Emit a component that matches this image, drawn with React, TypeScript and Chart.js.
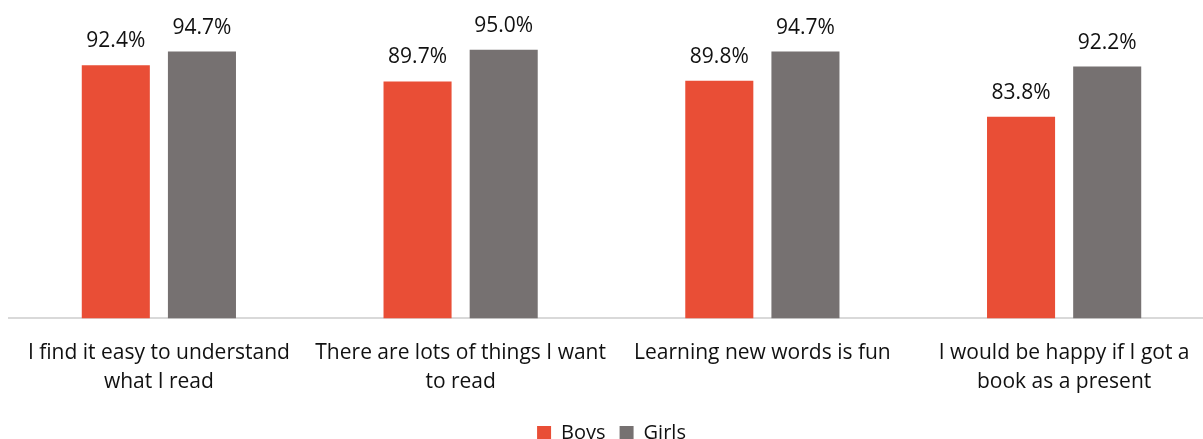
import React, { useEffect, useRef } from "react";
import { Chart, registerables } from "chart.js";

Chart.register(...registerables);

const categories: string[][] = [
  ["I find it easy to understand", "what I read"],
  ["There are lots of things I want", "to read"],
  ["Learning new words is fun"],
  ["I would be happy if I got a", "book as a present"],
];
const boys: number[] = [92.4, 89.7, 89.8, 83.8];
const girls: number[] = [94.7, 95.0, 94.7, 92.2];
const seriesNames: string[] = ["Boys", "Girls"];

const FONT = "'Open Sans', 'Liberation Sans', sans-serif";

const valueLabels = {
  id: "valueLabels",
  afterDatasetsDraw(chart: any) {
    const ctx = chart.ctx;
    ctx.save();
    ctx.font = `21px ${FONT}`;
    ctx.fillStyle = "#111";
    ctx.textAlign = "center";
    ctx.textBaseline = "middle";
    chart.data.datasets.forEach((ds: any, i: number) => {
      const meta = chart.getDatasetMeta(i);
      meta.data.forEach((bar: any, j: number) => {
        ctx.fillText(Number(ds.data[j]).toFixed(1) + "%", bar.x, bar.y - 24);
      });
    });
    ctx.restore();
  },
};

export default function App() {
  const ref = useRef<HTMLCanvasElement>(null);
  useEffect(() => {
    if (!ref.current) return;
    const chart = new Chart(ref.current, {
      type: "bar",
      data: {
        labels: categories as any,
        datasets: [
          { label: seriesNames[0], data: boys, backgroundColor: "#E94E36" },
          { label: seriesNames[1], data: girls, backgroundColor: "#767171" },
        ],
      },
      options: {
        responsive: false,
        animation: false,
        datasets: { bar: { categoryPercentage: 0.571, barPercentage: 0.79 } } as any,
        layout: { padding: { top: 12, left: 0, right: 0, bottom: 0 } },
        plugins: {
          legend: {
            position: "bottom",
            labels: {
              boxWidth: 14,
              boxHeight: 14,
              color: "#111",
              font: { family: FONT, size: 20 },
              padding: 14,
            },
          },
          tooltip: { enabled: false },
        },
        scales: {
          x: {
            grid: { display: false },
            border: { display: true, color: "#d9d9d9", width: 2 },
            ticks: {
              color: "#111",
              font: { family: FONT, size: 21, lineHeight: 1.35 },
              maxRotation: 0,
              autoSkip: false,
              padding: 13,
            },
          },
          y: { display: false, min: 50, max: 100 },
        },
      },
      plugins: [valueLabels],
    });
    return () => chart.destroy();
  }, []);
  return (
    <div
      style={{
        position: "fixed",
        left: 8,
        top: 8,
        width: 1195,
        height: 431,
        overflow: "hidden",
      }}
    >
      <canvas ref={ref} width={1207} height={445} style={{ display: "block" }} />
    </div>
  );
}
